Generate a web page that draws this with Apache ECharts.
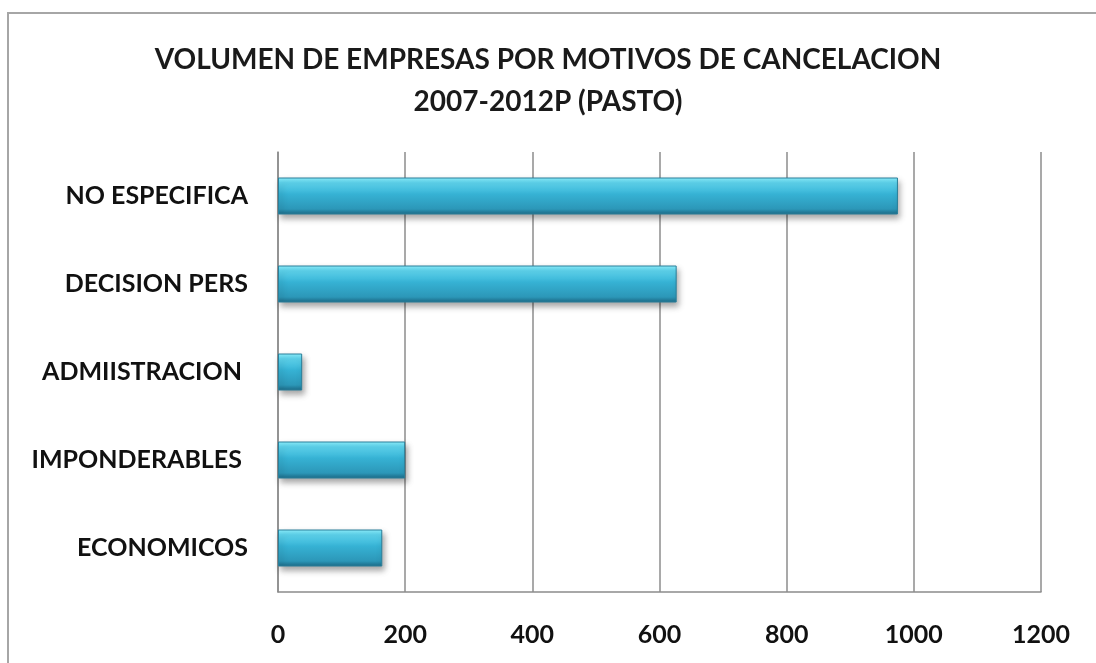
<!DOCTYPE html>
<html>
<head>
<meta charset="utf-8">
<script src="https://cdn.jsdelivr.net/npm/echarts@6/dist/echarts.min.js"></script>
<style>
  html, body { margin: 0; padding: 0; background: #fff; }
  #chart { width: 1096px; height: 663px; }
</style>
</head>
<body>
<div id="chart"></div>
<script>
// categories, top to bottom
const motivos = ['NO ESPECIFICA', 'DECISION PERS', 'ADMIISTRACION ', 'IMPONDERABLES ', 'ECONOMICOS']
// empresas canceladas
const empresas = [975, 627, 38, 200, 164]
const xTicks = [0, 200, 400, 600, 800, 1000, 1200]

const myChart = echarts.init(document.getElementById('chart'))
const fuente = 'Lato, "Open Sans", sans-serif'

let option = {
  backgroundColor: '#fff',
  animation: false,
  title: {
    text: 'VOLUMEN DE EMPRESAS POR MOTIVOS DE CANCELACION\n2007-2012P (PASTO)',
    left: 'center',
    top: 34,
    textStyle: {
      fontFamily: fuente,
      fontWeight: 'bold',
      fontSize: 28,
      lineHeight: 42,
      color: '#1a1a1a'
    }
  },
  graphic: [
    {
      type: 'rect',
      shape: { x: 8, y: 13, width: 1200, height: 800 },
      style: { fill: 'none', stroke: '#a6a6a6', lineWidth: 2 },
      silent: true
    }
  ],
  grid: {
    left: 278,
    right: 55,
    top: 152,
    bottom: 71
  },
  xAxis: {
    type: 'value',
    min: xTicks[0],
    max: xTicks[xTicks.length - 1],
    interval: 200,
    axisLine: { show: true, lineStyle: { color: '#8c8c8c', width: 1.5 } },
    axisTick: { show: false },
    splitLine: { show: true, lineStyle: { color: '#8c8c8c', width: 1.5 } },
    axisLabel: {
      margin: 30,
      fontFamily: fuente,
      fontWeight: 'bold',
      fontSize: 25,
      color: '#111',
      formatter: v => String(v)
    }
  },
  yAxis: {
    type: 'category',
    data: motivos,
    inverse: true,
    axisLine: { show: true, lineStyle: { color: '#8c8c8c', width: 1.5 } },
    axisTick: { show: false },
    axisLabel: {
      margin: 30,
      fontFamily: fuente,
      fontWeight: 'bold',
      fontSize: 25,
      color: '#111'
    }
  },
  series: [
    {
      type: 'bar',
      data: empresas,
      barWidth: 37,
      itemStyle: {
        color: new echarts.graphic.LinearGradient(0, 0, 0, 1, [
          { offset: 0, color: '#8ef2ff' },
          { offset: 0.14, color: '#5fd6f0' },
          { offset: 0.45, color: '#36b2d4' },
          { offset: 0.85, color: '#2c97b8' },
          { offset: 1, color: '#1c6a86' }
        ]),
        borderColor: '#2a7f9a',
        borderWidth: 1,
        shadowColor: 'rgba(0,0,0,0.35)',
        shadowBlur: 6,
        shadowOffsetX: 2,
        shadowOffsetY: 4
      }
    }
  ]
}
myChart.setOption(option, true)
</script>
</body>
</html>
